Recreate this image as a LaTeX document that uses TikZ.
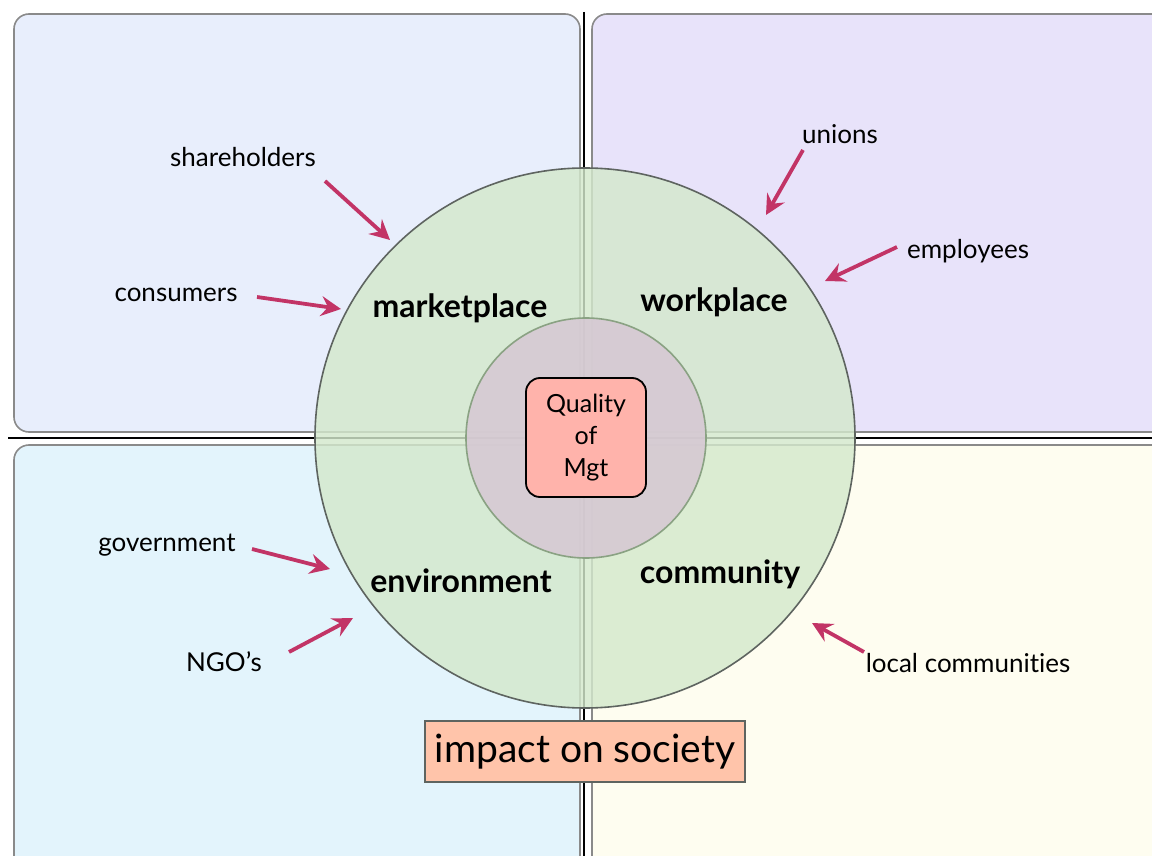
\documentclass[tikz,border=0pt]{standalone}
\usepackage{fontspec}
\setmainfont[Ligatures=NoCommon]{Lato}
\usetikzlibrary{arrows.meta}
\definecolor{tlfill}{HTML}{E8EEFC}
\definecolor{trfill}{HTML}{E8E3FA}
\definecolor{blfill}{HTML}{E3F4FC}
\definecolor{brfill}{HTML}{FEFDF0}
\definecolor{boxline}{HTML}{8A8A8A}
\definecolor{ringfill}{HTML}{D4E9CC}
\definecolor{ringline}{HTML}{5E6460}
\definecolor{corefill}{HTML}{D6C9D3}
\definecolor{coreline}{HTML}{8AA283}
\definecolor{qualfill}{HTML}{FFB3AB}
\definecolor{impfill}{HTML}{FFC4AA}
\definecolor{arrowcol}{HTML}{C23466}
\tikzset{
  quadbox/.style={draw=boxline, line width=1.6pt, rounded corners=15pt},
  axisline/.style={draw=black, line width=2.6pt},
  stakeholder/.style={font=\fontsize{26}{30}\selectfont, inner sep=0pt},
  arena/.style={font=\fontsize{32}{36}\selectfont\bfseries, inner sep=0pt},
  pusharrow/.style={draw=arrowcol, line width=3.8pt, -{Stealth[length=20pt,width=20pt,inset=7pt]}},
}
\begin{document}
\begin{tikzpicture}[x=1pt,y=-1pt]
\useasboundingbox (0,0) rectangle (1152,856);
\clip (0,0) rectangle (1152,856);
\fill[white] (0,0) rectangle (1152,856);
% quadrant boxes
\draw[quadbox, fill=tlfill] (14,14) rectangle (580,432);
\draw[quadbox, fill=trfill] (592,14) rectangle (1175,432);
\draw[quadbox, fill=blfill] (14,445) rectangle (580,880);
\draw[quadbox, fill=brfill] (592,445) rectangle (1175,880);
% axes
\coordinate (vtop) at (584,12);
\coordinate (vbot) at (584,860);
\coordinate (hleft) at (8,438);
\coordinate (hright) at (1160,438);
\draw[axisline] (vtop) -- (vbot);
\draw[axisline] (hleft) -- (hright);
% rings
\node (ring) [circle, minimum size=540pt, inner sep=0pt, draw=ringline, line width=1.6pt, fill=ringfill, fill opacity=0.82] at (585,438) {};
\node (core) [circle, minimum size=240pt, inner sep=0pt, draw=coreline, line width=1.6pt, fill=corefill, fill opacity=0.9] at (586,438) {};
% centre box
\node (quality) [draw=black, line width=1.8pt, fill=qualfill, rounded corners=14pt, minimum width=120pt, minimum height=119pt, align=center, font=\fontsize{25}{32}\selectfont] at (586,437.5) {Quality\\of\\Mgt};
% impact box
\node (impact) [draw=ringline, line width=1.2pt, fill=impfill, minimum width=320pt, minimum height=61pt, font=\fontsize{39}{44}\selectfont] at (585,751.5) {impact on society};
% arena labels
\node (market) [arena] at (460,308) {marketplace};
\node (work) [arena] at (714,302) {workplace};
\node (env) [arena] at (461,581) {environment};
\node (comm) [arena] at (720,574) {community};
% stakeholders
\node (share) [stakeholder] at (243,157) {shareholders};
\node (cons) [stakeholder] at (176,295) {consumers};
\node (unions) [stakeholder] at (840,134) {unions};
\node (empl) [stakeholder] at (968,251) {employees};
\node (gov) [stakeholder] at (167,545) {government};
\node (ngo) [stakeholder] at (224,662) {NGO’s};
\node (local) [stakeholder] at (968,663) {local communities};
% arrow ends
\coordinate (shareS) at (325,181);
\coordinate (shareE) at (390,240);
\coordinate (consS) at (257,297);
\coordinate (consE) at (341,309);
\coordinate (unionsS) at (803,150);
\coordinate (unionsE) at (766,215);
\coordinate (emplS) at (897,247);
\coordinate (emplE) at (825,281);
\coordinate (govS) at (252,549);
\coordinate (govE) at (330,569);
\coordinate (ngoS) at (289,652);
\coordinate (ngoE) at (353,618);
\coordinate (localS) at (864,652);
\coordinate (localE) at (812,623);
\draw[pusharrow] (shareS) -- (shareE);
\draw[pusharrow] (consS) -- (consE);
\draw[pusharrow] (unionsS) -- (unionsE);
\draw[pusharrow] (emplS) -- (emplE);
\draw[pusharrow] (govS) -- (govE);
\draw[pusharrow] (ngoS) -- (ngoE);
\draw[pusharrow] (localS) -- (localE);
\end{tikzpicture}
\end{document}
